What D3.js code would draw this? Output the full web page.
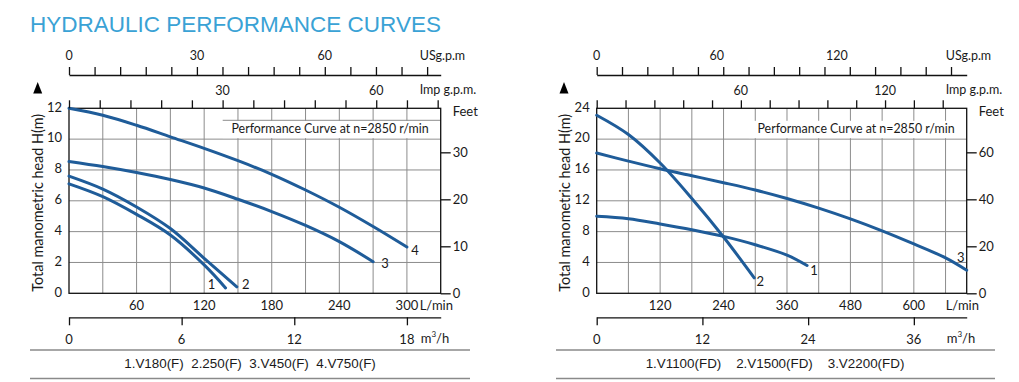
<!DOCTYPE html>
<html><head><meta charset="utf-8">
<script src="https://cdn.jsdelivr.net/npm/d3@7"></script>
<style>
body{margin:0;background:#fff}
svg{display:block}
text{font-family:Lato,"Open Sans",sans-serif;fill:#1a1a1a}
</style>
</head><body>
<svg id="c" width="1019" height="382"></svg>
<script>
// ---------- DATA ----------
const title = "HYDRAULIC PERFORMANCE CURVES";
const speedNote = "Performance Curve at n=2850 r/min";
const yTitle = "Total manometric head H(m)";

// Left chart (flow in L/min, head in m)
const leftModels = ["1.V180(F)", "2.250(F)", "3.V450(F)", "4.V750(F)"];
const leftCurve1 = [[0,7.1],[30,6.27],[60,5.12],[90,3.78],[120,1.84],[139,0.35]];
const leftCurve2 = [[0,7.6],[30,6.76],[60,5.6],[90,4.2],[120,2.27],[149,0.42]];
const leftCurve3 = [[0,8.55],[30,8.22],[60,7.83],[90,7.38],[120,6.83],[150,6.1],[180,5.3],[210,4.4],[240,3.35],[270,2.05]];
const leftCurve4 = [[0,12],[30,11.55],[60,10.9],[90,10.15],[120,9.4],[150,8.6],[180,7.72],[210,6.7],[240,5.58],[270,4.33],[300,3.0]];
const leftCurveNames = ["1","2","3","4"];
const leftHeadTicks = [0,2,4,6,8,10,12];
const leftFlowLabels = [60,120,180,240,300];
const leftM3Ticks = [0,6,12,18];
const leftUSLabels = [0,30,60];
const leftImpLabels = [30,60];
const leftFeetTicks = [0,10,20,30];

// Right chart
const rightModels = ["1.V1100(FD)", "2.V1500(FD)", "3.V2200(FD)"];
const rightCurve1 = [[0,10.0],[60,9.68],[120,9.0],[180,8.25],[240,7.38],[300,6.3],[360,4.95],[398,3.6]];
const rightCurve2 = [[0,23.1],[60,20.6],[120,16.9],[180,12.3],[240,7.3],[298,2.0]];
const rightCurve3 = [[0,18.2],[60,17.15],[120,16.15],[180,15.25],[240,14.35],[300,13.4],[360,12.3],[420,11.05],[480,9.65],[540,8.1],[600,6.4],[660,4.6],[700,3.0]];
const rightCurveNames = ["1","2","3"];
const rightHeadTicks = [0,4,8,12,16,20,24];
const rightFlowLabels = [120,240,360,480,600];
const rightM3Ticks = [0,12,24,36];
const rightUSLabels = [0,60,120];
const rightImpLabels = [60,120];
const rightFeetTicks = [0,20,40,60];

// unit conversions
const L_PER_USGAL = 3.785, L_PER_IMPGAL = 4.546, M_PER_FT = 0.3048;

// ---------- DRAW ----------
const svg = d3.select("#c");
const blue = "#1f5c99";
const gridCol = "#8c8c8c";

svg.append("text").attr("x",30).attr("y",32)
  .style("font-family","'Liberation Sans',Arial,sans-serif").style("font-size","22.5px")
  .style("fill","#3aa2d5").text(title);

function chart(o){
  const g = svg.append("g");
  const x = d3.scaleLinear().domain([0,o.qMax]).range([o.x0,o.x1]);
  const y = d3.scaleLinear().domain([0,o.hMax]).range([o.y1,o.y0]);
  const xUS = d3.scaleLinear().domain([0,o.qMax/L_PER_USGAL]).range([o.x0,o.x1]);
  const xImp = d3.scaleLinear().domain([0,o.qMax/L_PER_IMPGAL]).range([o.x0,o.x1]);
  const xM3 = d3.scaleLinear().domain([0,o.qMax*60/1000]).range([o.x0,o.x1]);
  const yFt = d3.scaleLinear().domain([0,o.hMax/M_PER_FT]).range([o.y1,o.y0]);

  // grid
  g.append("g").selectAll("line").data(d3.range(o.qStep,o.qMax,o.qStep)).join("line")
    .attr("x1",d=>x(d)).attr("x2",d=>x(d)).attr("y1",o.y0).attr("y2",o.y1)
    .attr("stroke",gridCol).attr("stroke-width",1);
  g.append("g").selectAll("line").data(o.headTicks.filter(d=>d>0&&d<o.hMax)).join("line")
    .attr("x1",o.x0).attr("x2",o.x1).attr("y1",d=>y(d)).attr("y2",d=>y(d))
    .attr("stroke",gridCol).attr("stroke-width",1);

  // note box
  g.append("rect").attr("x",o.x1-218).attr("y",o.y0+12.5).attr("width",217.5)
    .attr("height",y(o.noteH)-o.y0-13.5).attr("fill","#fff");
  if(o.noteLine) g.append("line").attr("x1",o.x1-218).attr("x2",o.x1).attr("y1",o.y0+12).attr("y2",o.y0+12)
    .attr("stroke",gridCol);
  g.append("text").attr("x",o.x1-12).attr("y",o.y0+21.5).attr("dominant-baseline","middle")
    .attr("text-anchor","end").style("font-size","12.4px").text(speedNote);

  // frame
  g.append("rect").attr("x",o.x0).attr("y",o.y0).attr("width",o.x1-o.x0).attr("height",o.y1-o.y0)
    .attr("fill","none").attr("stroke","#111").attr("stroke-width",1.3);

  // curves
  const line = d3.line().x(d=>x(d[0])).y(d=>y(d[1])).curve(d3.curveCatmullRom.alpha(0.5));
  o.curves.forEach((c,i)=>{
    g.append("path").attr("d",line(c)).attr("fill","none").attr("stroke",blue)
      .attr("stroke-width",3).attr("stroke-linecap","round");
    const e = c[c.length-1];
    g.append("text").attr("x",x(e[0])+o.labOff[i][0]).attr("y",y(e[1])+o.labOff[i][1])
      .attr("text-anchor","middle").attr("dominant-baseline","middle")
      .style("font-size","13px").text(o.names[i]);
  });

  // left head axis labels
  g.append("g").selectAll("text").data(o.headTicks).join("text")
    .attr("x",o.x0-7).attr("y",d=>y(d)).attr("text-anchor","end").attr("dominant-baseline","middle")
    .style("font-size","13px").text(d=>d);

  // feet axis
  const fa = g.append("g").attr("transform",`translate(${o.x1},0)`)
    .call(d3.axisRight(yFt).tickValues(o.feetTicks).tickSize(10).tickSizeOuter(0).tickPadding(2));
  fa.select(".domain").remove();
  fa.selectAll("line").attr("stroke","#111").attr("stroke-width",1.3);
  fa.selectAll("text").style("font-size","13px").style("font-family","Lato,sans-serif").attr("fill","#1a1a1a");
  g.append("text").attr("x",o.x1+12).attr("y",o.y0+4).attr("dominant-baseline","middle")
    .style("font-size","13px").text("Feet");

  // y title + arrow
  g.append("text").attr("transform",`translate(${o.titleX},${(o.y0+o.y1)/2+2}) rotate(-90)`)
    .attr("text-anchor","middle").attr("dominant-baseline","central")
    .style("font-size","14.4px").text(yTitle);
  g.append("path").attr("d",d3.line()([[o.titleX-4.5,93.5],[o.titleX+4.5,93.5],[o.titleX,82]]))
    .attr("fill","#000");

  // US gpm axis (top)
  const ua = g.append("g").attr("transform",`translate(0,${o.usY})`)
    .call(d3.axisTop(xUS).tickValues(d3.range(0,o.qMax/L_PER_USGAL,o.usStep)).tickSize(8).tickSizeOuter(0).tickFormat(""));
  ua.selectAll("line,path").attr("stroke","#111").attr("stroke-width",1.3);
  g.append("g").selectAll("text").data(o.usLabels).join("text")
    .attr("x",d=>xUS(d)).attr("y",o.usY-18).attr("text-anchor","middle").attr("dominant-baseline","middle")
    .style("font-size","12.5px").text(d=>d);
  g.append("text").attr("x",o.x1-21).attr("y",o.usY-18).attr("dominant-baseline","middle")
    .style("font-size","12.5px").text("USg.p.m");

  // Imp gpm axis (top of plot)
  const ia = g.append("g").attr("transform",`translate(0,${o.y0})`)
    .call(d3.axisTop(xImp).tickValues(d3.range(0,o.qMax/L_PER_IMPGAL,o.impStep)).tickSize(8).tickSizeOuter(0).tickFormat(""));
  ia.select(".domain").remove();
  ia.selectAll("line").attr("stroke","#111").attr("stroke-width",1.3);
  g.append("g").selectAll("text").data(o.impLabels).join("text")
    .attr("x",d=>xImp(d)).attr("y",o.y0-16).attr("text-anchor","middle").attr("dominant-baseline","middle")
    .style("font-size","12.5px").text(d=>d);
  g.append("text").attr("x",o.x1-21).attr("y",o.y0-17.5).attr("dominant-baseline","middle")
    .style("font-size","12.5px").text("Imp g.p.m.");

  // L/min labels
  g.append("g").selectAll("text").data(o.flowLabels).join("text")
    .attr("x",d=>x(d)).attr("y",o.y1+13).attr("text-anchor","middle").attr("dominant-baseline","middle")
    .style("font-size","13px").text(d=>d);
  g.append("text").attr("x",o.x1-21).attr("y",o.y1+13).attr("dominant-baseline","middle")
    .style("font-size","13px").text("L/min");

  // m3/h axis
  const my = o.y1+24;
  const ma = g.append("g").attr("transform",`translate(0,${my})`)
    .call(d3.axisBottom(xM3).tickValues(o.m3Ticks).tickSize(8).tickSizeOuter(0).tickFormat(""));
  ma.selectAll("line,path").attr("stroke","#111").attr("stroke-width",1.3);
  g.append("g").selectAll("text").data(o.m3Ticks).join("text")
    .attr("x",d=>xM3(d)).attr("y",my+23).attr("text-anchor","middle").attr("dominant-baseline","middle")
    .style("font-size","13px").text(d=>d);
  const mu = g.append("text").attr("x",o.x1-20).attr("y",my+23).attr("dominant-baseline","middle")
    .style("font-size","13px");
  mu.append("tspan").text("m");
  mu.append("tspan").attr("dy",-5).style("font-size","8px").text("3");
  mu.append("tspan").attr("dy",5).text("/h");

  // separators + legend
  [350,378.5].forEach(v=>g.append("line").attr("x1",o.sepX0).attr("x2",o.sepX1).attr("y1",v).attr("y2",v)
    .attr("stroke","#8a8a8a").attr("stroke-width",1.5));
  g.append("text").attr("x",o.legX).attr("y",364.5).attr("text-anchor","middle").attr("dominant-baseline","middle")
    .attr("xml:space","preserve").style("white-space","pre")
    .style("font-family","'Liberation Sans',Arial,sans-serif").style("font-size","13.4px")
    .text(o.models.join(o.legSep));
}

chart({x0:69,x1:440.7,y0:108.3,y1:293.3,qMax:330,hMax:12,qStep:30,noteH:10,noteLine:true,
  headTicks:leftHeadTicks,feetTicks:leftFeetTicks,flowLabels:leftFlowLabels,m3Ticks:leftM3Ticks,
  usLabels:leftUSLabels,impLabels:leftImpLabels,usStep:6,impStep:6,usY:75,titleX:37.7,
  curves:[leftCurve1,leftCurve2,leftCurve3,leftCurve4],names:leftCurveNames,
  labOff:[[-14,-2],[9,-1],[12,3],[8,5]],
  models:leftModels,legSep:"  ",legX:250,sepX0:30,sepX1:470});

chart({x0:596.7,x1:966.7,y0:108.3,y1:293.3,qMax:700,hMax:24,qStep:60,noteH:20,noteLine:false,
  headTicks:rightHeadTicks,feetTicks:rightFeetTicks,flowLabels:rightFlowLabels,m3Ticks:rightM3Ticks,
  usLabels:rightUSLabels,impLabels:rightImpLabels,usStep:12.65,impStep:12,usY:75,titleX:564,
  curves:[rightCurve1,rightCurve2,rightCurve3],names:rightCurveNames,
  labOff:[[7,6],[6,5],[-6,-11]],
  models:rightModels,legSep:"    ",legX:775,sepX0:556,sepX1:995});
</script>
</body></html>
